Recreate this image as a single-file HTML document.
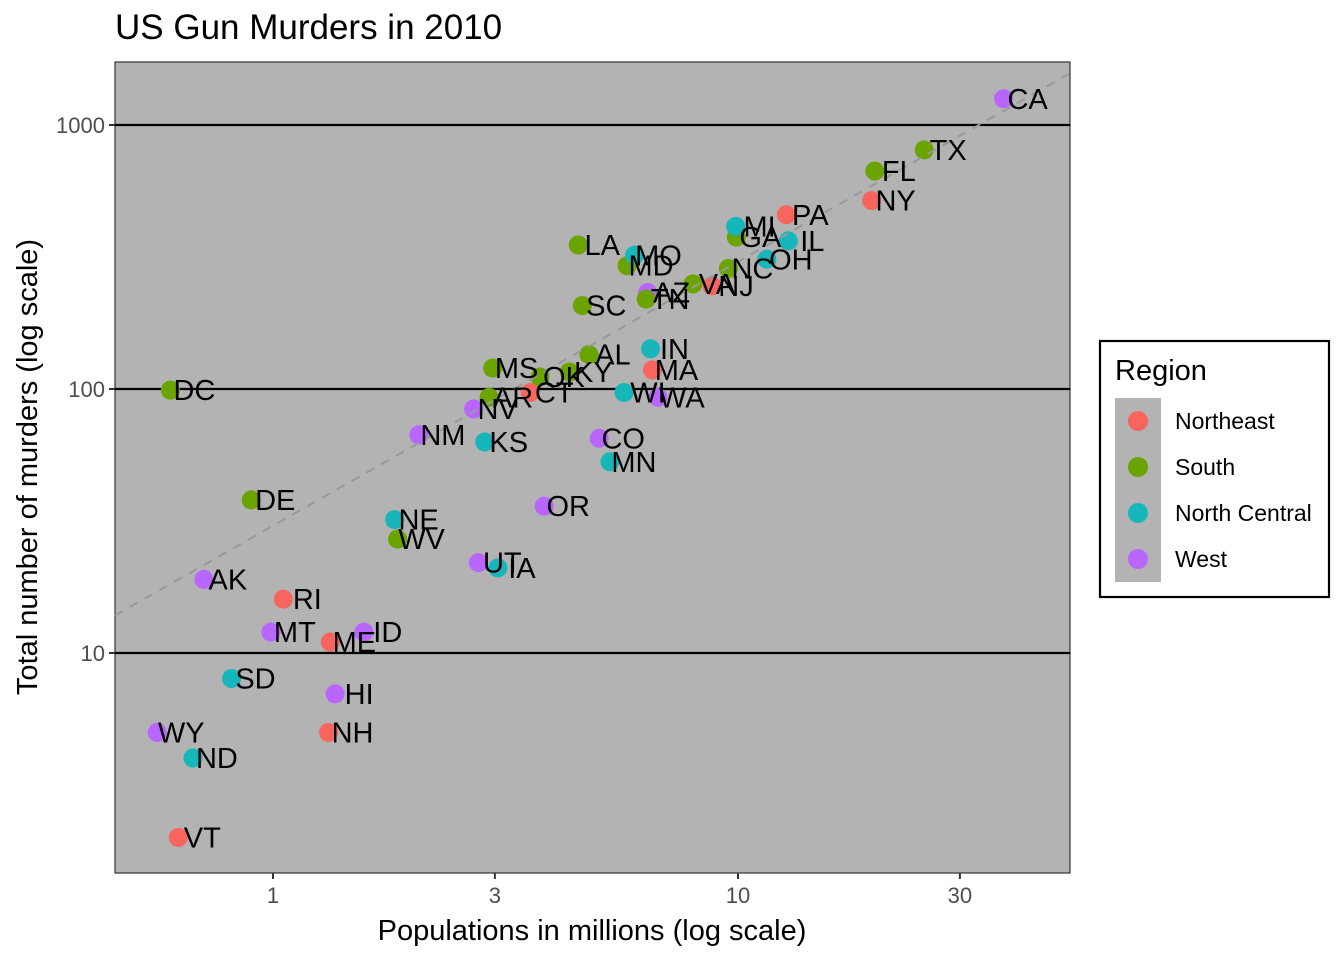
<!DOCTYPE html>
<html><head><meta charset="utf-8"><style>
body{margin:0;background:#fff}
svg{display:block;font-family:"Liberation Sans",Arial,sans-serif}
</style></head><body>
<svg id="chart" width="1344" height="960">
<rect x="0" y="0" width="1344" height="960" fill="#fff"/>
<text x="115" y="39" font-size="35" fill="#000">US Gun Murders in 2010</text>
<rect x="115" y="62" width="955" height="811" fill="#b3b3b3" stroke="#333" stroke-width="1.2"/>
<g id="grid"></g><g id="pts"></g><g id="line"></g><g id="labels"></g><g id="axes"></g>
<text x="592" y="940" font-size="29" text-anchor="middle" fill="#000">Populations in millions (log scale)</text>
<text transform="translate(37,467) rotate(-90)" font-size="29" text-anchor="middle" fill="#000">Total number of murders (log scale)</text>
<g>
<rect x="1100" y="341" width="229" height="256" fill="#fff" stroke="#000" stroke-width="2.2"/>
<text x="1115" y="380" font-size="29">Region</text>
<rect x="1115" y="398" width="46" height="184" fill="#b3b3b3"/>
<g id="leg"></g>
</g>
</svg>
<script>
const abbs=["AL","AK","AZ","AR","CA","CO","CT","DE","DC","FL","GA","HI","ID","IL","IN","IA","KS","KY","LA","ME","MD","MA","MI","MN","MS","MO","MT","NE","NV","NH","NJ","NM","NY","NC","ND","OH","OK","OR","PA","RI","SC","SD","TN","TX","UT","VT","VA","WA","WV","WI","WY"];
const regions=["S","W","W","S","W","W","NE","S","S","S","S","W","W","NC","NC","NC","NC","S","S","NE","S","NE","NC","NC","S","NC","W","NC","W","NE","NE","W","NE","S","NC","NC","S","W","NE","NE","S","NC","S","S","W","NE","S","W","S","NC","W"];
const population=[4.779736,0.710231,6.392017,2.915918,37.253956,5.029196,3.574097,0.897934,0.601723,19.687653,9.92,1.360301,1.567582,12.830632,6.483802,3.046355,2.853118,4.339367,4.533372,1.328361,5.773552,6.547629,9.88364,5.303925,2.967297,5.988927,0.989415,1.826341,2.700551,1.31647,8.791894,2.059179,19.378102,9.535483,0.672591,11.536504,3.751351,3.831074,12.702379,1.052567,4.625364,0.81418,6.346105,25.145561,2.763885,0.625741,8.001024,6.72454,1.852994,5.686986,0.563626];
const total=[135,19,232,93,1257,65,97,38,99,669,376,7,12,364,142,21,63,116,351,11,293,118,413,53,120,321,12,32,84,5,246,67,517,286,4,310,111,36,457,16,207,8,219,805,22,2,250,93,27,97,5];
const regionKeys=["NE","S","NC","W"];
const regionNames=["Northeast","South","North Central","West"];
const regionColors=["#F8655F","#6BA300","#17B6BA","#B866FF"];
const xTicks=[1,3,10,30];
const yTicks=[10,100,1000];
const NS="http://www.w3.org/2000/svg";
const X=v=>273+465*Math.log10(v);
const Y=v=>653-264*(Math.log10(v)-1);
function mk(tag,attrs,parent,txt){const e=document.createElementNS(NS,tag);for(const k in attrs)e.setAttribute(k,attrs[k]);if(txt!==undefined)e.textContent=txt;document.getElementById(parent).appendChild(e);return e;}
yTicks.forEach(t=>{
 let l=mk('line',{x1:115,x2:1070,y1:Y(t),y2:Y(t),stroke:'#000','stroke-width':2.2},'grid');
 
 
 let k=mk('line',{x1:109,x2:115,y1:Y(t),y2:Y(t),stroke:'#333','stroke-width':2},'axes');
 
 
 let tx=mk('text',{x:105,y:Y(t)+8,'font-size':22,'text-anchor':'end',fill:'#4d4d4d'},'axes',String(t));
 
 
});
xTicks.forEach(t=>{
 let k=mk('line',{x1:X(t),x2:X(t),y1:873,y2:879,stroke:'#333','stroke-width':2},'axes');
 
 
 let tx=mk('text',{x:X(t),y:903,'font-size':22,'text-anchor':'middle',fill:'#4d4d4d'},'axes',String(t));
 
 
});
let sumT=total.reduce((a,b)=>a+b,0),sumP=population.reduce((a,b)=>a+b,0);
const r=sumT/sumP;
const lx0=Math.pow(10,(115-273)/465),lx1=Math.pow(10,(1070-273)/465);
let dl=mk('line',{x1:X(lx0),y1:Y(r*lx0),x2:X(lx1),y2:Y(r*lx1),stroke:'#999','stroke-width':2,'stroke-dasharray':'9,8'},'line');


abbs.forEach((a,i)=>{
 const c=regionColors[regionKeys.indexOf(regions[i])];
 let p=mk('circle',{cx:X(population[i]),cy:Y(total[i]),r:9.5,fill:c},'pts');
 
 
 let t=mk('text',{x:X(population[i])+24,y:Y(total[i])+10,'font-size':29,'text-anchor':'middle',fill:'#000'},'labels',a);
 
 
});
regionNames.forEach((n,i)=>{
 const y=421+46*i;
 let c=mk('circle',{cx:1138,cy:y,r:10,fill:regionColors[i]},'leg');
 
 
 let t=mk('text',{x:1175,y:y+8,'font-size':23},'leg',n);
 
 
});
</script>
</body></html>
